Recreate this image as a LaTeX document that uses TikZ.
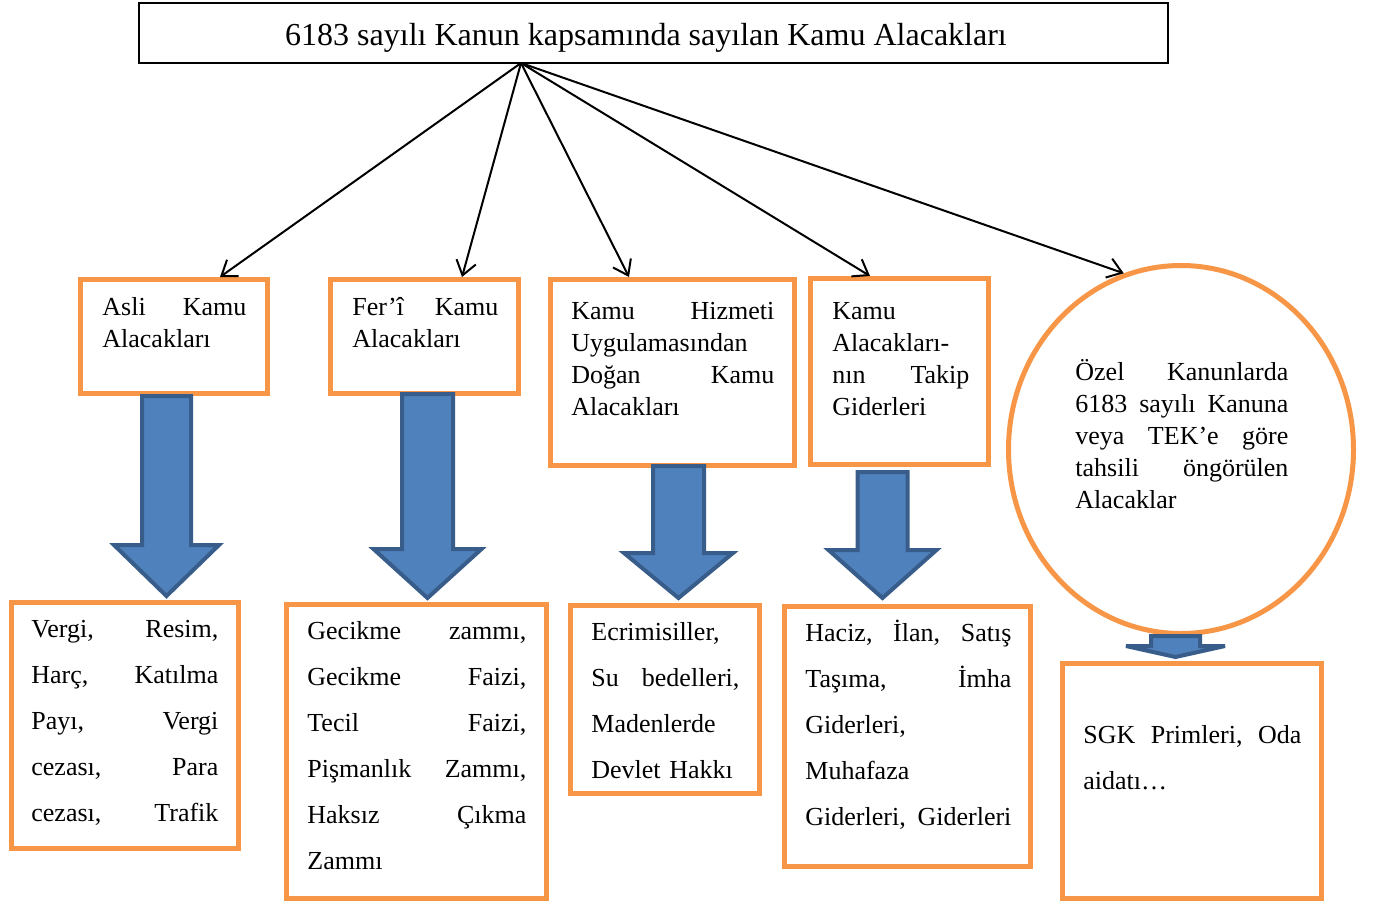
\documentclass[tikz,border=0pt]{standalone}
\usepackage{fontspec}
\setmainfont{Liberation Serif}
\usetikzlibrary{arrows.meta,shapes.geometric}
\definecolor{boxorange}{HTML}{F79646}
\definecolor{arrowblue}{HTML}{4F81BD}
\definecolor{arrowedge}{HTML}{385D8A}
\newcommand{\fillgap}{\hspace{\fill}}
\begin{document}
\begin{tikzpicture}[x=0.5pt,y=-0.5pt,
  orangebox/.style={draw=boxorange,line width=2.5pt,fill=white,inner sep=0pt},
  boxtext/.style={inner sep=0pt,anchor=base west,align=left,font=\fontsize{13}{16}\selectfont},
  listtext/.style={boxtext,font=\fontsize{13}{23}\selectfont},
  blockarrow/.style={fill=arrowblue,draw=arrowedge,line width=2pt,line join=miter,miter limit=3},
  link/.style={-{Straight Barb[length=7pt,width=10pt]},line width=1pt}]
\useasboundingbox (0,0) rectangle (1376,907);
% title box
\node [draw,line width=0.75pt,inner sep=0pt,minimum width=514.5pt,minimum height=30pt] (law) at (653.5,33) {};
\node [inner sep=0pt,anchor=base,font=\fontsize{16}{19}\selectfont] (lawT) at (646,45) {6183 sayılı Kanun kapsamında sayılan Kamu Alacakları};
\coordinate (hub) at (521,63);
% first row
\node [orangebox,minimum width=93.5pt,minimum height=57pt] (asli) at (174,336.5) {};
\node [boxtext,text width=72pt] (asliT) at (102,315) {Asli\fillgap Kamu\\Alacakları};
\node [orangebox,minimum width=94pt,minimum height=57pt] (feri) at (424.5,336.5) {};
\node [boxtext,text width=73pt] (feriT) at (352,315) {Fer’î\fillgap Kamu\\Alacakları};
\node [orangebox,minimum width=122pt,minimum height=93pt] (hizmet) at (672.5,372.5) {};
\node [boxtext,text width=101.5pt] (hizmetT) at (571,319) {Kamu\fillgap Hizmeti\\Uygulamasından\\Doğan\fillgap Kamu\\Alacakları};
\node [orangebox,minimum width=89pt,minimum height=93pt] (takip) at (899.5,371.5) {};
\node [boxtext,text width=68.5pt] (takipT) at (832,319) {Kamu\\Alacakları-\\nın\fillgap Takip\\Giderleri};
\node [orangebox,ellipse,minimum width=172.5pt,minimum height=184pt] (ozel) at (1181,449.5) {};
\node [boxtext,text width=106.5pt] (ozelT) at (1075,380) {Özel\fillgap Kanunlarda\\6183\fillgap sayılı\fillgap Kanuna\\veya\fillgap TEK’e\fillgap göre\\tahsili\fillgap öngörülen\\Alacaklar};
% second row
\node [orangebox,minimum width=113.5pt,minimum height=123pt] (vergi) at (125,725.5) {};
\node [listtext,text width=93.5pt] (vergiT) at (31,637) {Vergi,\fillgap Resim,\\Harç,\fillgap Katılma\\Payı,\fillgap Vergi\\cezası,\fillgap Para\\cezası,\fillgap Trafik};
\node [orangebox,minimum width=130pt,minimum height=147pt] (gecikme) at (416.5,751.5) {};
\node [listtext,text width=109.5pt] (gecikmeT) at (307,639) {Gecikme\fillgap zammı,\\Gecikme\fillgap Faizi,\\Tecil\fillgap Faizi,\\Pişmanlık\fillgap Zammı,\\Haksız\fillgap Çıkma\\Zammı};
\node [orangebox,minimum width=94.5pt,minimum height=94pt] (ecri) at (665,699.5) {};
\node [listtext,text width=74pt] (ecriT) at (591,640) {Ecrimisiller,\\Su\fillgap bedelleri,\\Madenlerde\\Devlet Hakkı};
\node [orangebox,minimum width=123pt,minimum height=130pt] (haciz) at (907.5,736.5) {};
\node [listtext,text width=103pt] (hacizT) at (805,641) {Haciz,\fillgap İlan,\fillgap Satış\\Taşıma,\fillgap İmha\\Giderleri,\\Muhafaza\\Giderleri,\fillgap Giderleri};
\node [orangebox,minimum width=129.5pt,minimum height=117.5pt] (sgk) at (1192,781) {};
\node [listtext,text width=109pt] (sgkT) at (1083,743) {SGK\fillgap Primleri,\fillgap Oda\\aidatı…};
% block arrows
\foreach \x/\t/\n/\e/\s/\h in {166.5/396/545/596/24.5/52.5,427.5/394/549/598/25.5/54,678.5/466/553/598/25.5/54.5,882.5/472/550/598/25/54,1175.5/636/646/657/24.5/49.5}
  \filldraw [blockarrow] (\x-\s,\t) -- (\x+\s,\t) -- (\x+\s,\n) -- (\x+\h,\n) -- (\x,\e) -- (\x-\h,\n) -- (\x-\s,\n) -- cycle;
% links
\draw [link] (hub) -- ([xshift=23pt]asli.north);
\draw [link] (hub) -- ([xshift=18.75pt]feri.north);
\draw [link] (hub) -- ([xshift=-21.75pt]hizmet.north);
\draw [link] (hub) -- ([xshift=-14.75pt]takip.north);
\draw [link] (hub) -- (ozel.108.7);
\end{tikzpicture}
\end{document}
